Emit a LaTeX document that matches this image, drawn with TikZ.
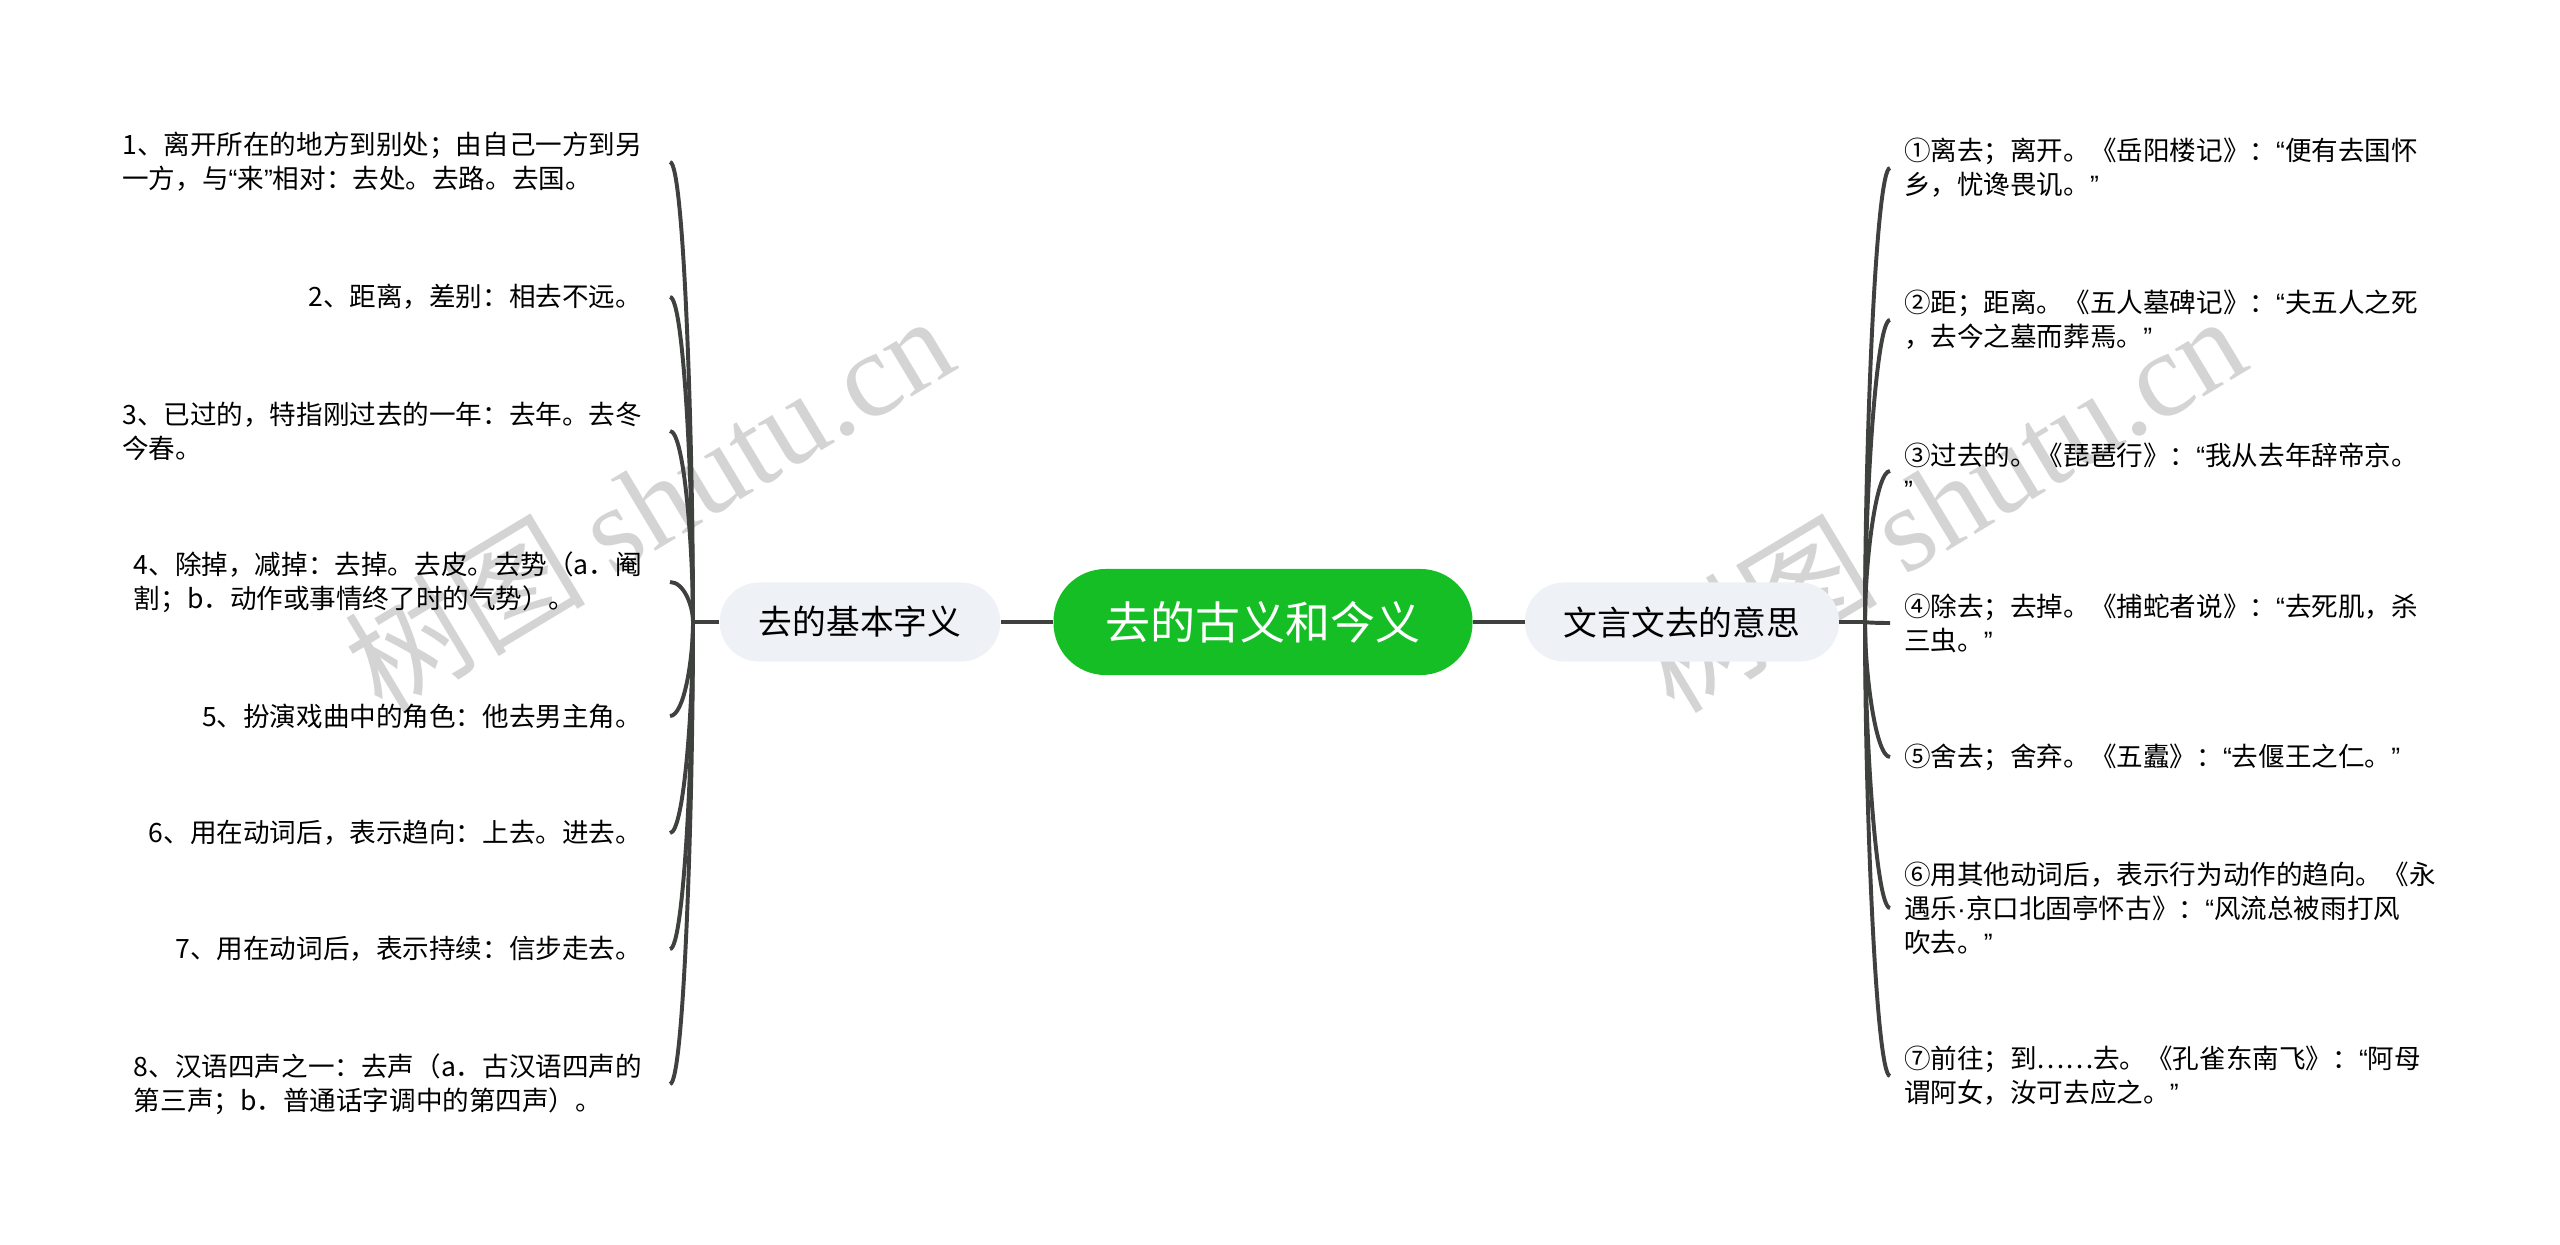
\documentclass[tikz,border=0pt]{standalone}
\usepackage{fontspec}
\setmainfont{Noto Sans CJK SC}
\newfontfamily\wmfont{Liberation Serif}
\newfontfamily\latinfont{Liberation Sans}
\usetikzlibrary{calc,positioning}
\definecolor{mainGreen}{RGB}{22,190,38}
\definecolor{subGray}{RGB}{238,241,245}
\definecolor{linkGray}{RGB}{62,65,62}
\definecolor{markGray}{RGB}{212,212,212}
\newcommand{\leaffont}{\fontsize{18.9pt}{24.2pt}\selectfont}
% narrow quotes and dot, as in the picture
\newcommand{\lquo}{{\latinfont “}}
\newcommand{\rquo}{{\latinfont ”}}
\newcommand{\mdot}{{\latinfont ·}}
\tikzset{
  link/.style={draw=linkGray, line width=2.8pt},
  mainnode/.style={fill=mainGreen, text=white, rounded corners=1.3cm, minimum height=2.65cm, inner xsep=1.3cm, font=\fontsize{32pt}{38pt}\selectfont},
  subnode/.style={fill=subGray, text=black, rounded corners=0.98cm, minimum height=1.975cm, inner xsep=0.975cm, font=\fontsize{24pt}{28pt}\selectfont},
  leafl/.style={anchor=east, align=left, inner sep=0pt, outer xsep=19.9pt, font=\leaffont},
  leafr/.style={anchor=west, align=left, inner sep=0pt, outer xsep=10pt, font=\leaffont},
  wmark/.style={rotate=31, text=markGray, inner sep=0pt, font=\fontsize{86pt}{90pt}\selectfont},
}
\begin{document}
\begin{tikzpicture}[x=0.025cm,y=-0.025cm]
\useasboundingbox (0,0) rectangle (2560,1244);
% =============================================
% - watermark.
\node[wmark] (wm1) at (648,502) {树图 {\wmfont shutu.cn}};
\node[wmark] (wm2) at (1940,502) {树图 {\wmfont shutu.cn}};
% =============================================
% - centre and the two branches.
\node[mainnode] (main) at (1263,622) {去的古义和今义};
\node[subnode] (basic) at (860,622) {去的基本字义};
\node[subnode] (wenyan) at (1682,622) {文言文去的意思};
\coordinate (lj) at (693,622);
\coordinate (rj) at (1865,622);
\draw[link] (main) -- (basic);
\draw[link] (main) -- (wenyan);
\draw[link] (basic) -- (lj);
\draw[link] (wenyan) -- (rj);
% =============================================
% - left leaves.
\node[leafl] (l1) at (670,162) {1、离开所在的地方到别处；由自己一方到另\\一方，与\lquo 来\rquo 相对：去处。去路。去国。};
\node[leafl] (l2) at (670,297) {2、距离，差别：相去不远。};
\node[leafl] (l3) at (670,431) {3、已过的，特指刚过去的一年：去年。去冬\\今春。};
\node[leafl] (l4) at (670,582) {4、除掉，减掉：去掉。去皮。去势（a．阉\\割；b．动作或事情终了时的气势）。};
\node[leafl] (l5) at (670,716) {5、扮演戏曲中的角色：他去男主角。};
\node[leafl] (l6) at (670,833) {6、用在动词后，表示趋向：上去。进去。};
\node[leafl] (l7) at (670,949) {7、用在动词后，表示持续：信步走去。};
\node[leafl] (l8) at (670,1084) {8、汉语四声之一：去声（a．古汉语四声的\\第三声；b．普通话字调中的第四声）。};
% - right leaves.
\node[leafr] (r1) at (1890,168) {①离去；离开。《岳阳楼记》：\lquo 便有去国怀\\乡，忧谗畏讥。\rquo};
\node[leafr] (r2) at (1890,320) {②距；距离。《五人墓碑记》：\lquo 夫五人之死\\，去今之墓而葬焉。\rquo};
\node[leafr] (r3) at (1890,471) {③过去的。《琵琶行》：\lquo 我从去年辞帝京。\\\rquo};
\node[leafr] (r4) at (1890,623) {④除去；去掉。《捕蛇者说》：\lquo 去死肌，杀\\三虫。\rquo};
\node[leafr] (r5) at (1890,757) {⑤舍去；舍弃。《五蠹》：\lquo 去偃王之仁。\rquo};
\node[leafr] (r6) at (1890,908) {⑥用其他动词后，表示行为动作的趋向。《永\\遇乐\mdot 京口北固亭怀古》：\lquo 风流总被雨打风\\吹去。\rquo};
\node[leafr] (r7) at (1890,1076) {⑦前往；到……去。《孔雀东南飞》：\lquo 阿母\\谓阿女，汝可去应之。\rquo};
% =============================================
% - curved links to the leaves.
\foreach \i in {1,...,8}
  \draw[link] (lj) .. controls ($(lj)!0.4!(lj |- l\i.east)$) and ($(l\i.east)+(14,0)$) .. (l\i.east);
\foreach \i in {1,...,7}
  \draw[link] (rj) .. controls ($(rj)!0.4!(rj |- r\i.west)$) and ($(r\i.west)+(-14,0)$) .. (r\i.west);
% =============================================
\end{tikzpicture}
\end{document}
